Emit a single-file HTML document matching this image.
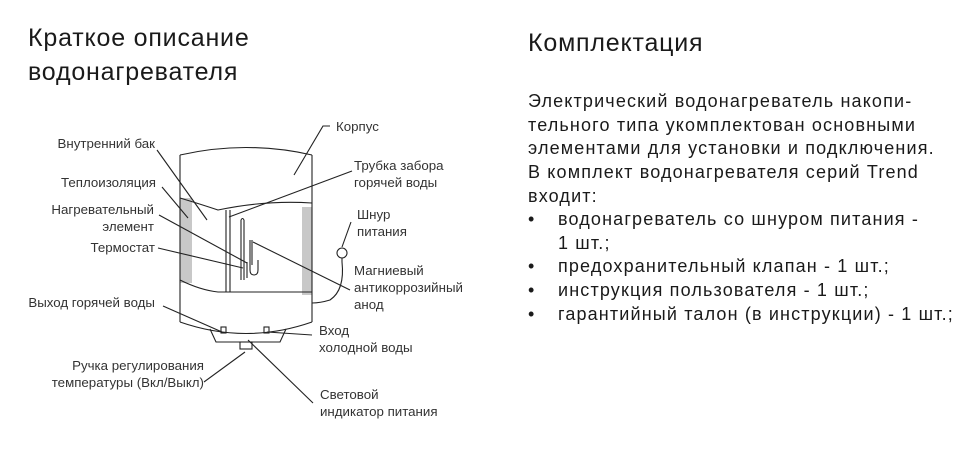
<!DOCTYPE html>
<html><head><meta charset="utf-8"><style>
body{margin:0;width:979px;height:465px;background:#fff;position:relative;overflow:hidden;font-family:"Liberation Sans",sans-serif;color:#222}
.h{position:absolute;font-size:25px;letter-spacing:0.8px;line-height:34px;color:#1a1a1a}
.t{position:absolute;font-size:18px;letter-spacing:1.15px;line-height:23.7px;color:#1a1a1a;white-space:nowrap}
.l{position:absolute;font-size:13.3px;line-height:17px;color:#333;white-space:nowrap}
.r{text-align:right}
</style></head><body>
<div class="h" style="left:28px;top:21px">Краткое описание<br>водонагревателя</div>
<div class="h" style="left:528px;top:26px">Комплектация</div>
<div class="t" style="left:528px;top:90px">Электрический водонагреватель накопи-<br>тельного типа укомплектован основными<br>элементами для установки и подключения.<br>В комплект водонагревателя серий Trend<br>входит:</div>
<div class="t" style="left:528px;top:208px">•<br><br>•<br>•<br>•</div>
<div class="t" style="left:558px;top:208px">водонагреватель со шнуром питания -<br>1 шт.;<br>предохранительный клапан - 1 шт.;<br>инструкция пользователя - 1 шт.;<br>гарантийный талон (в инструкции) - 1 шт.;</div>

<svg width="979" height="465" style="position:absolute;left:0;top:0" fill="none" stroke="#222" stroke-width="1.1">
<rect x="180" y="198" width="12" height="85" fill="#c8c8c8" stroke="none"/>
<rect x="302" y="207" width="10" height="88" fill="#c8c8c8" stroke="none"/>
<path d="M180 155 Q246 140 312 155"/>
<path d="M180 155 V322 M312 155 V322"/>
<path d="M180 322 Q246 345 312 322"/>
<path d="M180 198 Q200 204 218 210 Q265 200 312 203"/>
<path d="M180 280 Q200 290 218 292 L312 292"/>
<path d="M210 329 L216 342 H280 L286 329"/>
<rect x="221" y="327" width="5" height="6"/>
<rect x="264" y="327" width="5" height="6"/>
<rect x="240" y="342" width="12" height="7"/>
<path d="M226 210 V292 M230 210 V292"/>
<path d="M241 220 V280 M244 220 V280 M241 220 Q242.5 217 244 220"/>
<path d="M250 240 V270 Q250 275 254 275 Q258 275 258 270 V260 M247 262 V278"/>
<path d="M252 240 V265"/>
<circle cx="342" cy="253" r="5"/>
<path d="M342 258 V262 Q345 290 330 300 Q320 303 312 303"/>
<path d="M294 175 L323 126 H330"/>
<path d="M157 150 L207 220"/>
<path d="M162 187 L188 218"/>
<path d="M159 215 L247 263"/>
<path d="M158 248 L243 268"/>
<path d="M163 306 L222 332"/>
<path d="M204 382 L245 352"/>
<path d="M313 403 L248 340"/>
<path d="M312 335 L267 332"/>
<path d="M350 290 L253 242"/>
<path d="M351 222 L342 247"/>
<path d="M352 171 L229 217"/>
</svg>

<div class="l" style="left:336px;top:118px">Корпус</div>
<div class="l r" style="right:824px;top:135px">Внутренний бак</div>
<div class="l r" style="right:823px;top:174px">Теплоизоляция</div>
<div class="l r" style="right:825px;top:201px">Нагревательный<br>элемент</div>
<div class="l r" style="right:824px;top:239px">Термостат</div>
<div class="l r" style="right:824px;top:294px">Выход горячей воды</div>
<div class="l r" style="right:775px;top:357px">Ручка регулирования<br>температуры (Вкл/Выкл)</div>
<div class="l" style="left:354px;top:157px">Трубка забора<br>горячей воды</div>
<div class="l" style="left:357px;top:206px">Шнур<br>питания</div>
<div class="l" style="left:354px;top:262px">Магниевый<br>антикоррозийный<br>анод</div>
<div class="l" style="left:319px;top:322px">Вход<br>холодной воды</div>
<div class="l" style="left:320px;top:386px">Световой<br>индикатор питания</div>
</body></html>
